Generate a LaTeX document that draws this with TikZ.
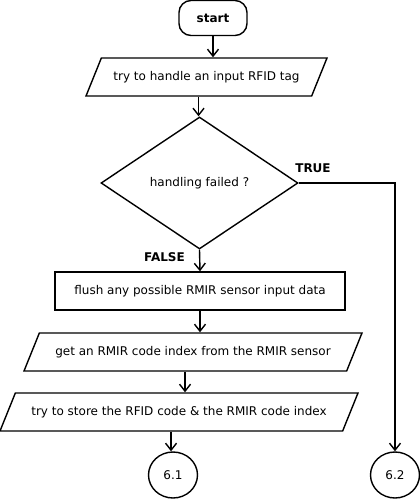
\documentclass[tikz,border=0pt]{standalone}
\usepackage{fontspec}
\setmainfont{DejaVu Sans}
\usetikzlibrary{shapes.geometric,arrows.meta}

\begin{document}
\begin{tikzpicture}[x=1pt,y=-1pt,line width=1.4pt,font=\fontsize{12}{14}\selectfont,
  io/.style={draw,trapezium,trapezium left angle=68,trapezium right angle=112,trapezium stretches body,text height=9pt,text depth=3pt,inner xsep=0pt,inner ysep=13pt},
  proc/.style={draw,rectangle,minimum height=38pt},
  conn/.style={draw,ellipse,minimum width=49pt,minimum height=46pt,inner sep=0pt},
  flow/.style={-{Straight Barb[length=7pt,width=11pt]}},
  lbl/.style={font=\fontsize{12}{14}\selectfont\bfseries}]
\useasboundingbox (0,0) rectangle (420,499);
\node[draw,rounded corners=12pt,minimum width=68pt,minimum height=35pt,lbl] (start) at (213,18) {start};
\node[io,minimum width=241pt] (tag) at (206.5,77) {try to handle an input RFID tag};
\node[draw,diamond,minimum width=197pt,minimum height=132pt,inner sep=0pt] (fail) at (199.5,183) {handling failed ?};
\node[proc,minimum width=290pt] (flush) at (200,291) {flush any possible RMIR sensor input data};
\node[io,minimum width=338pt] (code) at (193,352) {get an RMIR code index from the RMIR sensor};
\node[io,minimum width=358pt] (store) at (179,412) {try to store the RFID code \& the RMIR code index};
\node[conn] (c61) at (173,475) {6.1};
\node[conn] (c62) at (395,475) {6.2};
\draw[flow] (start.south) -- (start.south |- tag.top side);
\draw[flow] (tag.bottom side) -- (tag.bottom side |- fail.north);
\draw[flow] (fail.south) -- (flush.north);
\draw[flow] (flush.south) -- (flush.south |- code.top side);
\draw[flow] (code.bottom side) -- (code.bottom side |- store.top side);
\draw[flow] (store.bottom side) -- (store.bottom side |- c61.north);
\draw[flow] (fail.east) -| (c62.north);
\node[lbl] (yes) at (313,168) {TRUE};
\node[lbl] (no) at (164.5,257) {FALSE};
\end{tikzpicture}
\end{document}
